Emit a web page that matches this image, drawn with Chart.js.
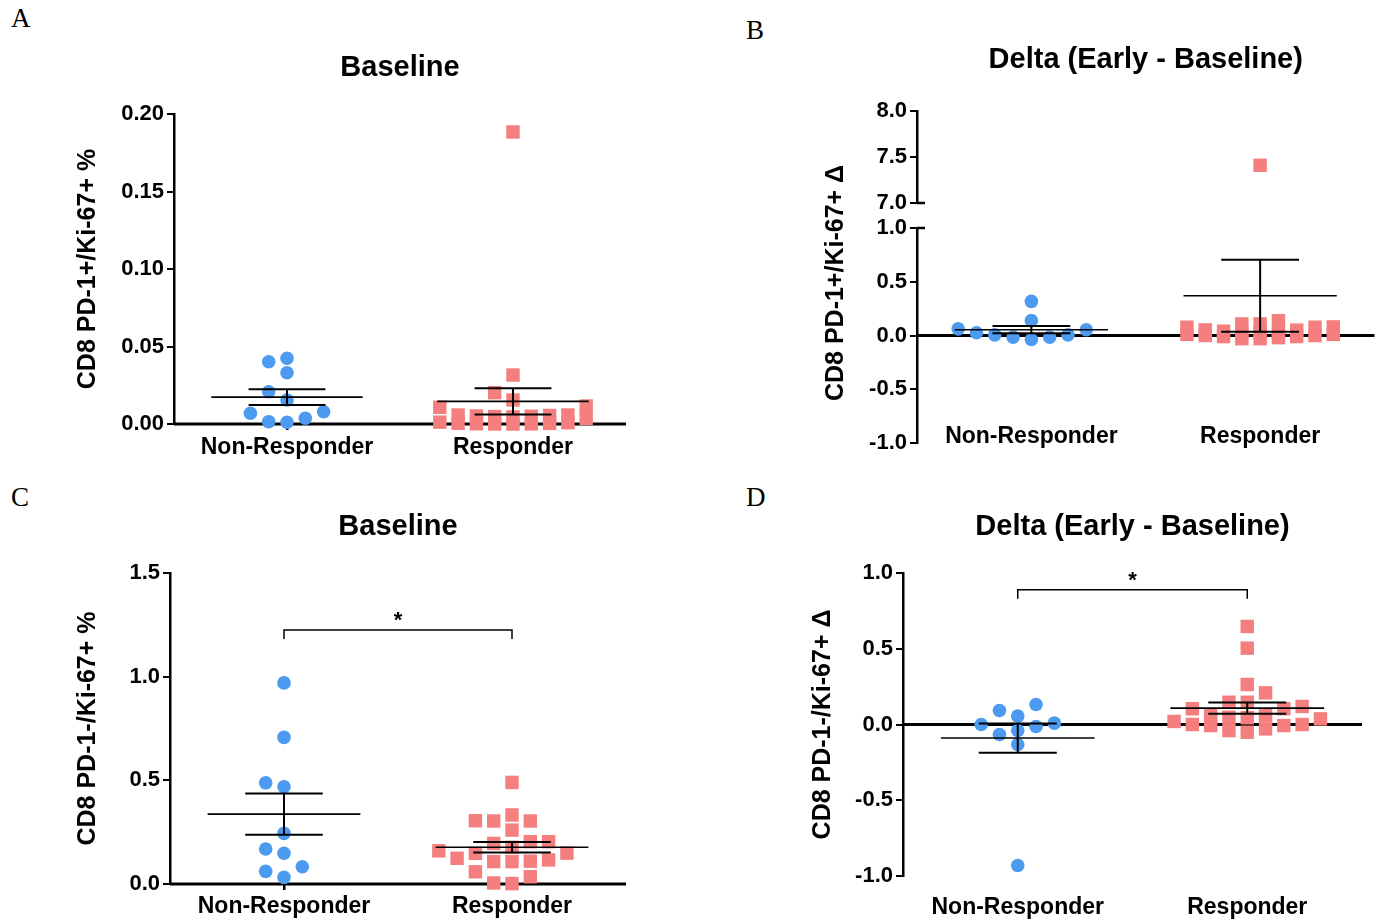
<!DOCTYPE html>
<html>
<head>
<meta charset="utf-8">
<title>CD8 PD-1 / Ki-67 dot plots</title>
<script src="https://cdn.jsdelivr.net/npm/chart.js@4.4.1/dist/chart.umd.min.js"></script>
<style>
  html, body { margin: 0; padding: 0; background: #fff; }
  #fig { position: relative; width: 1384px; height: 922px; overflow: hidden; background: #fff; }
  #fig canvas { position: absolute; }
  .letter { position: absolute; font-family: "Liberation Serif", "Times New Roman", serif; font-size: 27px; line-height: 27px; color: #000; }
</style>
</head>
<body>
<div id="fig">
  <div class="letter" style="left:11px;top:5px">A</div>
  <div class="letter" style="left:746px;top:17px">B</div>
  <div class="letter" style="left:11px;top:484px">C</div>
  <div class="letter" style="left:746px;top:484px">D</div>
  <canvas id="panelA" width="692" height="461" style="left:0;top:0"></canvas>
  <canvas id="panelB" width="692" height="461" style="left:692px;top:0"></canvas>
  <canvas id="panelBtop" width="692" height="461" style="left:692px;top:0"></canvas>
  <canvas id="panelC" width="692" height="461" style="left:0;top:461px"></canvas>
  <canvas id="panelD" width="692" height="461" style="left:692px;top:461px"></canvas>
</div>
<script>
// ---------------------------------------------------------------- data
const categories = ['Non-Responder', 'Responder'];

// A: CD8 PD-1+/Ki-67+ %, baseline
const nonRespA = [0.0424, 0.0402, 0.0331, 0.0208, 0.0155, 0.0079, 0.0069, 0.0037, 0.0011, 0.0015];
const respA = [0.1884, 0.0316, 0.0202, 0.0155, 0.0116, 0.0108, 0.0058, 0.0058, 0.0055, 0.0052, 0.0050,
               0.0048, 0.0046, 0.0037, 0.0012, 0.0008, 0.0005, 0.0004, 0.0002, 0.0001, 0.0000, 0.0000];
const ticksA = [0, 0.05, 0.10, 0.15, 0.20];

// B: CD8 PD-1+/Ki-67+ delta (early - baseline)
const nonRespB = [0.317, 0.138, 0.062, 0.053, 0.025, 0.006, 0.006, -0.015, -0.015, -0.037];
const respB = [7.41, 0.138, 0.108, 0.108, 0.080, 0.077, 0.077, 0.052, 0.050, 0.040, 0.030,
               0.020, 0.020, 0.010, 0.010, 0.000, 0.000, -0.010, -0.010, -0.020, -0.030, -0.030];
const ticksB = [-1, -0.5, 0, 0.5, 1];
const ticksBtop = [7, 7.5, 8];

// C: CD8 PD-1-/Ki-67+ %, baseline
const nonRespC = [0.970, 0.707, 0.488, 0.469, 0.244, 0.169, 0.148, 0.083, 0.061, 0.032];
const respC = [0.490, 0.333, 0.305, 0.304, 0.304, 0.260, 0.204, 0.204, 0.196, 0.177, 0.160,
               0.149, 0.148, 0.124, 0.116, 0.110, 0.108, 0.108, 0.059, 0.035, 0.005, 0.002];
const ticksC = [0, 0.5, 1.0, 1.5];

// D: CD8 PD-1-/Ki-67+ delta (early - baseline)
const nonRespD = [0.132, 0.092, 0.055, 0.009, 0.000, -0.013, -0.040, -0.066, -0.132, -0.931];
const respD = [0.647, 0.504, 0.264, 0.209, 0.147, 0.147, 0.119, 0.104, 0.104, 0.059, 0.059,
               0.048, 0.045, 0.037, 0.020, 0.000, 0.000, -0.007, -0.007, -0.029, -0.040, -0.051];
const ticksD = [-1, -0.5, 0, 0.5, 1];

// significance brackets (C and D)
const sigC = { y: 1.225, label: '*' };
const sigD = { y: 0.89, label: '*' };

// ---------------------------------------------------------------- helpers
const BLUE = '#4c9bf0';
const PINK = '#f57f7f';
const SANS = '"Liberation Sans", Arial, Helvetica, sans-serif';
const TITLE_SIZE = 29, TICK_SIZE = 22, CAT_SIZE = 23, AXIS_TITLE_SIZE = 25;

function mean(a) { return a.reduce((s, v) => s + v, 0) / a.length; }
function sem(a) {
  const m = mean(a);
  const ss = a.reduce((s, v) => s + (v - m) * (v - m), 0);
  return Math.sqrt(ss / (a.length - 1)) / Math.sqrt(a.length);
}

// mean +/- SEM bars, zero line, brackets, axis break marks
function marks(cfg) {
  return {
    id: 'marks',
    beforeDatasetsDraw(chart) {
      if (!cfg.zeroLine) return;
      const { ctx, chartArea: ca, scales: { y } } = chart;
      const y0 = y.getPixelForValue(0);
      ctx.save();
      ctx.strokeStyle = '#000';
      ctx.lineWidth = 3;
      ctx.beginPath();
      ctx.moveTo(ca.left, y0);
      ctx.lineTo(ca.right, y0);
      ctx.stroke();
      ctx.restore();
    },
    afterDatasetsDraw(chart) {
      const { ctx, chartArea: ca, scales: { x, y } } = chart;
      const seg = (x1, y1, x2, y2, w) => {
        ctx.lineWidth = w;
        ctx.beginPath();
        ctx.moveTo(x1, y1);
        ctx.lineTo(x2, y2);
        ctx.stroke();
      };
      ctx.save();
      ctx.strokeStyle = '#000';
      ctx.fillStyle = '#000';
      (cfg.stats || []).forEach((vals, i) => {
        const m = mean(vals), e = sem(vals), c = i + 1;
        const ym = y.getPixelForValue(m), yt = y.getPixelForValue(m + e), yb = y.getPixelForValue(m - e);
        seg(x.getPixelForValue(c - 0.335), ym, x.getPixelForValue(c + 0.335), ym, 1.6);
        seg(x.getPixelForValue(c - 0.17), yt, x.getPixelForValue(c + 0.17), yt, 2);
        seg(x.getPixelForValue(c - 0.17), yb, x.getPixelForValue(c + 0.17), yb, 2);
        seg(x.getPixelForValue(c), yt, x.getPixelForValue(c), yb, 2);
      });
      if (cfg.sig) {
        const yb = y.getPixelForValue(cfg.sig.y);
        const x1 = x.getPixelForValue(1), x2 = x.getPixelForValue(2);
        ctx.lineWidth = 1.5;
        ctx.beginPath();
        ctx.moveTo(x1, yb + 9);
        ctx.lineTo(x1, yb);
        ctx.lineTo(x2, yb);
        ctx.lineTo(x2, yb + 9);
        ctx.stroke();
        ctx.font = 'bold 22px ' + SANS;
        ctx.textAlign = 'center';
        ctx.textBaseline = 'alphabetic';
        ctx.fillText(cfg.sig.label, (x1 + x2) / 2, yb - 3);
      }
      if (cfg.breakAt !== undefined) {
        const yk = y.getPixelForValue(cfg.breakAt);
        seg(ca.left, yk, ca.left + 8, yk, 2.5);
      }
      ctx.restore();
    },
    afterDraw(chart) {
      if (!cfg.sideTitle) return;
      const ctx = chart.ctx, t = cfg.sideTitle;
      ctx.save();
      ctx.translate(t.x, t.y);
      ctx.rotate(-Math.PI / 2);
      ctx.fillStyle = '#000';
      ctx.font = 'bold ' + AXIS_TITLE_SIZE + 'px ' + SANS;
      ctx.textAlign = 'center';
      ctx.textBaseline = 'middle';
      ctx.fillText(t.text, 0, 0);
      ctx.restore();
    }
  };
}

// GraphPad-like scatter spread: same-column points keep a vertical gap
function swarm(chart, maxCol) {
  const xs = chart.scales.x, ys = chart.scales.y;
  const step = 18.3, gapMin = 13.5;
  chart.data.datasets.forEach(ds => {
    const placed = [];
    const order = ds.values.map((v, i) => i).sort((a, b) => ds.values[a] - ds.values[b]);
    const cx = xs.getPixelForValue(ds.cat);
    order.forEach(i => {
      const py = ys.getPixelForValue(ds.values[i]);
      let best = 0, bestGap = -1;
      for (let k = 0; k <= 2 * maxCol; k++) {
        const col = k === 0 ? 0 : (k % 2 ? -Math.ceil(k / 2) : k / 2);
        let gap = Infinity;
        placed.forEach(p => { if (p.col === col) gap = Math.min(gap, Math.abs(p.py - py)); });
        if (gap >= gapMin) { best = col; break; }
        if (gap > bestGap) { bestGap = gap; best = col; }
      }
      placed.push({ col: best, py });
      ds.data[i] = { x: xs.getValueForPixel(cx + best * step), y: ds.values[i] };
    });
  });
  chart.update('none');
}

function buildPanel(id, cfg) {
  const canvas = document.getElementById(id);
  const W = canvas.width, H = canvas.height, a = cfg.area;
  const titleLH = TITLE_SIZE * 1.2;
  const titleTop = cfg.title ? cfg.titleY - titleLH / 2 : a.top;
  const tickLen = cfg.tickMarks ? 6 : 0;
  // labels that sit above the bottom of the plot area are drawn mirrored
  const mirror = cfg.xLabels && cfg.xLabelY < a.bottom;
  const catHalf = CAT_SIZE * 1.2 / 2;
  const xPad = cfg.xLabels
    ? (mirror ? a.bottom - cfg.xLabelY - tickLen - catHalf : cfg.xLabelY - a.bottom - tickLen - catHalf)
    : 0;

  const datasets = cfg.groups.map((vals, i) => ({
    label: categories[i],
    data: vals.map(v => ({ x: i + 1, y: v })),
    values: vals,
    cat: i + 1,
    pointStyle: i === 0 ? 'circle' : 'rect',
    pointRadius: i === 0 ? 6.8 : 9.5,
    backgroundColor: i === 0 ? BLUE : PINK,
    borderWidth: 0,
    clip: false
  }));

  const chart = new Chart(canvas, {
    type: 'scatter',
    data: { datasets },
    options: {
      responsive: false,
      animation: false,
      events: [],
      layout: { padding: { left: 0, right: W - a.right, top: titleTop, bottom: cfg.xLabels ? 0 : H - a.bottom } },
      plugins: {
        legend: { display: false },
        tooltip: { enabled: false },
        title: cfg.title ? {
          display: true, text: cfg.title, fullSize: false, color: '#000',
          font: { family: SANS, size: TITLE_SIZE, weight: 'bold' },
          padding: { top: 0, bottom: a.top - titleTop - titleLH }
        } : { display: false }
      },
      scales: {
        x: {
          type: 'linear', display: !!cfg.xLabels, min: 0.5, max: 2.5,
          afterBuildTicks: s => { s.ticks = categories.map((c, i) => ({ value: i + 1 })); },
          afterFit: s => { if (cfg.xLabels) s.height = H - a.bottom; },
          border: { display: false },
          grid: { display: !!cfg.tickMarks, drawOnChartArea: false, drawTicks: !!cfg.tickMarks,
                  tickLength: 6, color: '#000', lineWidth: 2.5 },
          ticks: {
            autoSkip: false, maxRotation: 0, color: '#000', mirror: mirror,
            font: { family: SANS, size: CAT_SIZE, weight: 'bold' },
            padding: xPad,
            callback: v => categories[Math.round(v) - 1]
          }
        },
        y: {
          type: 'linear', min: cfg.ticks[0], max: cfg.ticks[cfg.ticks.length - 1],
          afterBuildTicks: s => { s.ticks = cfg.ticks.map(v => ({ value: v })); },
          afterFit: s => { s.width = a.left; },
          border: { display: true, color: '#000', width: 2.5 },
          grid: { drawOnChartArea: false, drawTicks: true, tickLength: 7, color: '#000', lineWidth: 2 },
          ticks: {
            color: '#000', padding: 3,
            font: { family: SANS, size: TICK_SIZE, weight: 'bold' },
            callback: v => v.toFixed(cfg.decimals)
          },
          title: cfg.yTitle ? {
            display: true, text: cfg.yTitle, color: '#000',
            font: { family: SANS, size: AXIS_TITLE_SIZE, weight: 'bold' },
            padding: { top: cfg.yTitleX - AXIS_TITLE_SIZE * 0.6, bottom: 0 }
          } : { display: false }
        }
      }
    },
    plugins: [marks(cfg)]
  });
  swarm(chart, cfg.maxCol || 4);
  return chart;
}

// ---------------------------------------------------------------- panels
buildPanel('panelA', {
  groups: [nonRespA, respA], stats: [nonRespA, respA],
  area: { left: 174, right: 626, top: 114, bottom: 424 },
  ticks: ticksA, decimals: 2,
  title: 'Baseline', titleY: 68,
  yTitle: 'CD8 PD-1+/Ki-67+ %', yTitleX: 88,
  xLabels: true, xLabelY: 448, tickMarks: true, zeroLine: true
});

buildPanel('panelB', {
  groups: [nonRespB.filter(v => v <= 1), respB.filter(v => v <= 1)], stats: [nonRespB, respB],
  area: { left: 225, right: 683, top: 228, bottom: 443 },
  ticks: ticksB, decimals: 1,
  title: 'Delta (Early - Baseline)', titleY: 60,
  sideTitle: { text: 'CD8 PD-1+/Ki-67+ Δ', x: 144, y: 283 },
  xLabels: true, xLabelY: 437, tickMarks: false, zeroLine: true, breakAt: 1
});

buildPanel('panelBtop', {
  groups: [nonRespB.filter(v => v >= 7), respB.filter(v => v >= 7)],
  area: { left: 225, right: 683, top: 111, bottom: 203 },
  ticks: ticksBtop, decimals: 1,
  xLabels: false, breakAt: 7
});

buildPanel('panelC', {
  groups: [nonRespC, respC], stats: [nonRespC, respC],
  area: { left: 170, right: 626, top: 112, bottom: 423 },
  ticks: ticksC, decimals: 1,
  title: 'Baseline', titleY: 66,
  yTitle: 'CD8 PD-1-/Ki-67+ %', yTitleX: 88,
  xLabels: true, xLabelY: 446, tickMarks: true, zeroLine: true, sig: sigC
});

buildPanel('panelD', {
  groups: [nonRespD, respD], stats: [nonRespD, respD],
  area: { left: 211, right: 670, top: 112, bottom: 415 },
  ticks: ticksD, decimals: 1,
  title: 'Delta (Early - Baseline)', titleY: 66,
  yTitle: 'CD8 PD-1-/Ki-67+ Δ', yTitleX: 131,
  xLabels: true, xLabelY: 447, tickMarks: false, zeroLine: true, sig: sigD
});
</script>
</body>
</html>
